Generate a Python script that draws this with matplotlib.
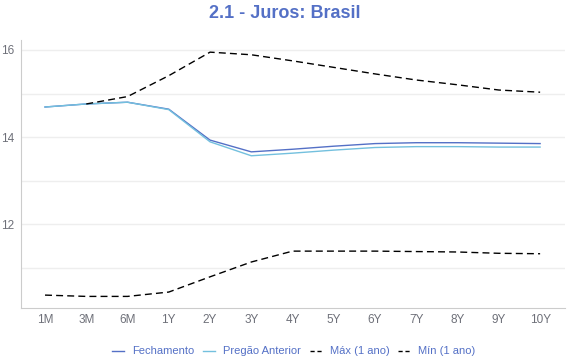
import numpy as np
import matplotlib.pyplot as plt

plt.rcParams['font.family'] = ['Liberation Sans', 'DejaVu Sans']

labels = ['1M', '3M', '6M', '1Y', '2Y', '3Y', '4Y', '5Y', '6Y', '7Y', '8Y', '9Y', '10Y']
fechamento = [14.69, 14.76, 14.80, 14.64, 13.93, 13.66, 13.72, 13.79, 13.85, 13.87, 13.87, 13.86, 13.85]
pregao = [14.69, 14.76, 14.80, 14.63, 13.89, 13.57, 13.63, 13.70, 13.76, 13.78, 13.78, 13.77, 13.77]
maximo = [np.nan, 14.76, 14.93, 15.41, 15.95, 15.89, 15.75, 15.60, 15.45, 15.31, 15.20, 15.08, 15.03]
minimo = [10.37, 10.34, 10.34, 10.44, 10.79, 11.13, 11.38, 11.38, 11.38, 11.37, 11.36, 11.33, 11.32]

fig = plt.figure(figsize=(5.7, 3.6), dpi=100)
ax = fig.add_axes([0.037, 0.144, 0.954, 0.745])
x = np.arange(len(labels))

ax.plot(x, fechamento, color='#5470c6', lw=1, label='Fechamento')
ax.plot(x, pregao, color='#73c0de', lw=1, label='Pregão Anterior')
ax.plot(x, maximo, color='black', lw=1, ls=(0, (5, 3)), label='Máx (1 ano)')
ax.plot(x, minimo, color='black', lw=1, ls=(0, (5, 3)), label='Mín (1 ano)')

ax.set_xlim(-0.58, 12.6)
ax.set_ylim(10.07, 16.23)
ax.set_xticks(x)
ax.set_xticklabels(labels)
ax.set_yticks([12, 14, 16])
ax.set_yticks([11, 13, 15], minor=True)
ax.grid(axis='y', which='both', color='#eeeeee', lw=1)
ax.set_axisbelow(True)
ax.tick_params(axis='both', length=0, labelsize=8.5, colors='#6e7079', pad=5)
ax.tick_params(axis='x', pad=4)
ax.tick_params(axis='y', which='minor', length=0)
for s in ['top', 'right']:
    ax.spines[s].set_visible(False)
ax.spines['left'].set_color('#cccccc')
ax.spines['bottom'].set_color('#cccccc')

fig.suptitle('2.1 - Juros: Brasil', x=0.5, y=0.985, fontsize=13, fontweight='bold', color='#5470c6')
leg = fig.legend(loc='lower center', bbox_to_anchor=(0.515, -0.018), ncol=4, frameon=False,
                 fontsize=8, handlelength=1.1, handletextpad=0.7, columnspacing=0.8)
for t in leg.get_texts():
    t.set_color('#5470c6')
for h in leg.legend_handles[2:]:
    h.set_linestyle((0, (3, 2)))

fig.savefig('out.png', dpi=100)
